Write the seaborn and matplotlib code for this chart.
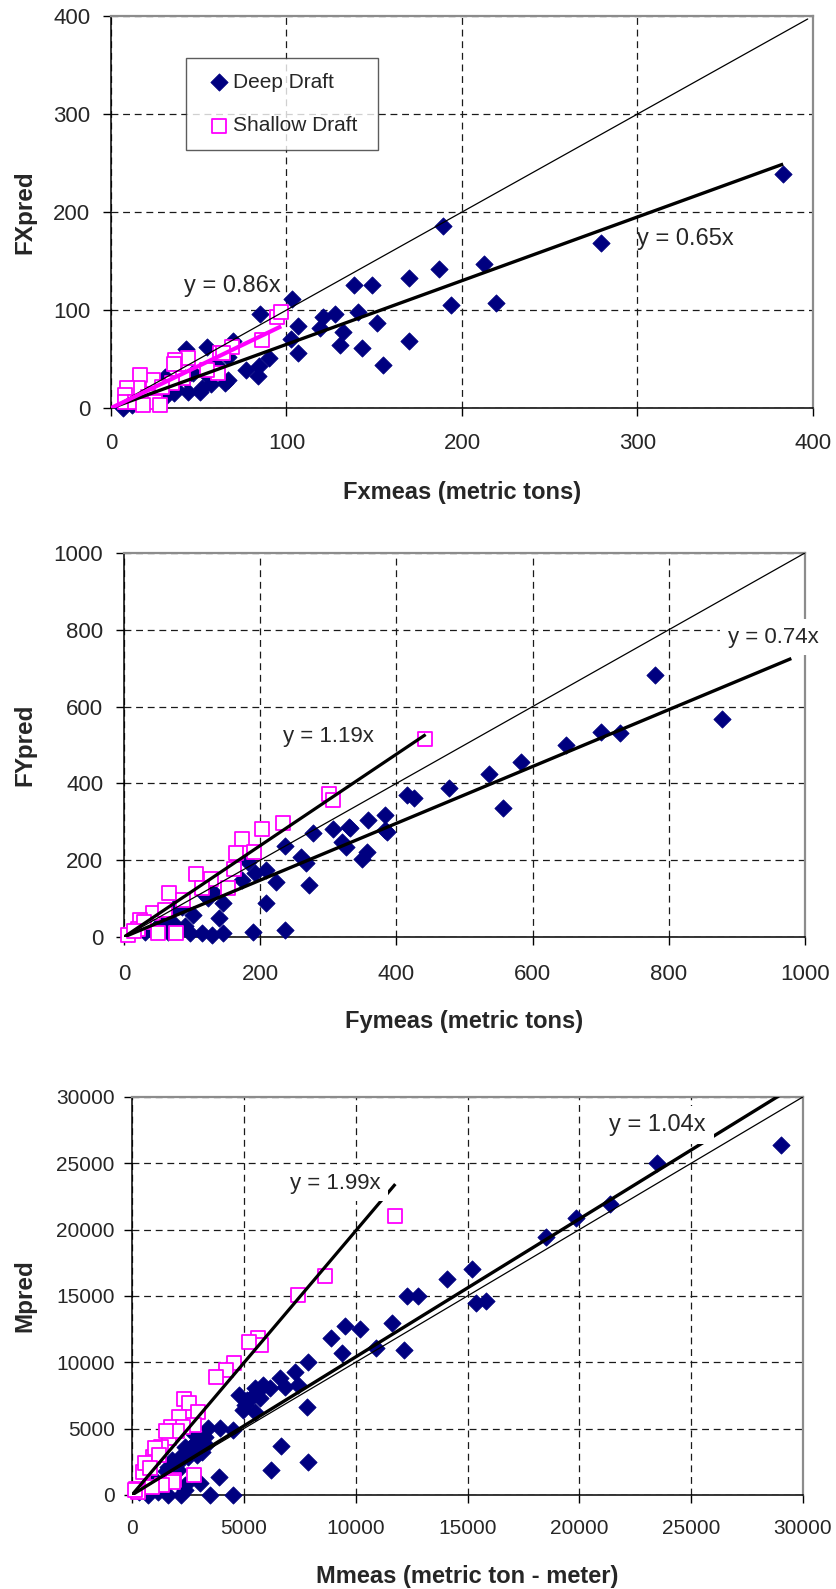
import matplotlib
matplotlib.use("Agg")
import matplotlib.pyplot as plt
import seaborn as sns
import pandas as pd

# ---------------- Longitudinal force Fx (metric tons) ----------------
fx_deep_meas = [189, 186.7, 212.7, 169.8, 193.5, 219.4, 138.3, 148.5, 103, 84.7, 120.6, 127.8, 141,
                106.7, 119, 132.4, 151.4, 102.6, 130.5, 106.7, 142.8, 169.8, 155.2, 90.2, 84.5, 84,
                76.9, 54.9, 42.7, 69.3, 66.9, 50.7, 44, 35.9, 7, 279.4, 382.7, 66.9, 53.6, 65, 51.7,
                46.9, 42.2, 36.5, 30.8, 25, 15.6, 30.8, 60, 57, 20, 12]
fx_deep_pred = [186, 141.5, 146.6, 133, 105.4, 107, 126, 126, 111, 95.6, 92.5, 96, 97.6,
                83.7, 81.3, 77.9, 87, 70, 64.3, 56.5, 61, 68, 43.9, 50.7, 42.9, 32.7,
                38.8, 62.6, 59.9, 68.7, 28.6, 16.7, 16.7, 15, 0, 168.7, 239, 52.4, 35.4, 25.2, 20,
                35.4, 30.3, 20, 11.6, 8.2, 4.8, 32, 45, 25, 10, 3]
fx_shallow_meas = [94.8, 97, 85.9, 68.8, 62, 44, 36.5, 61, 54.5, 41.2, 24.1, 16.5, 15.6, 8.9, 8,
                   21.3, 25, 8, 13.7, 34.6, 28.9, 64, 36, 18, 28]
fx_shallow_pred = [93.2, 98, 69.4, 62.6, 55.8, 50.7, 49, 35.4, 38.8, 30.3, 28.6, 33.7, 20, 20, 13.3,
                   11.6, 6.4, 6.4, 6.4, 25.2, 21.8, 56, 45, 3, 3]
fx_slopes = [0.65, 0.86]          # deep, shallow trendlines (through origin)
fx_fit_end = [383, 97]
fx_ticks = [0, 100, 200, 300, 400]

# ---------------- Lateral force Fy (metric tons) ----------------
fy_deep_meas = [780, 878, 728, 701, 649, 583, 536, 478, 556, 415, 426, 383, 383, 359, 330, 307, 278,
                320, 326, 357, 349, 237, 260, 268, 271, 223, 208, 192, 208, 236, 189, 182.5, 173, 146,
                140, 145, 130, 114, 97, 102, 124, 131, 116.5, 75, 85, 65, 55, 332, 386, 31, 11, 70, 45, 90]
fy_deep_pred = [681.5, 567, 532, 534, 499, 455, 424, 389, 337, 371, 363, 319, 279, 306, 286, 280, 270,
                248, 235, 222, 202, 237, 209, 193, 135, 144, 174, 166, 88, 18, 14, 196, 148, 88,
                49, 10, 5, 10, 10, 57, 101, 118, 114, 79, 79, 14, 36, 283, 274, 14, 10, 40, 20, 30]
fy_shallow_meas = [442, 301.5, 307.5, 233, 202, 174, 164.5, 191, 161, 106, 128, 153, 114, 66.5, 86,
                   43, 23.5, 50, 76, 6, 21, 60, 30, 15]
fy_shallow_pred = [515, 372, 358, 298, 280, 254, 220, 222, 176, 163, 150, 127, 127, 115, 96,
                   63, 44, 10, 10, 5, 22, 70, 40, 15]
fy_slopes = [0.74, 1.19]
fy_fit_end = [980, 443]
fy_ticks = [0, 200, 400, 600, 800, 1000]

# ---------------- Yaw moment M (metric ton - meter) ----------------
m_deep_meas = [29016, 23458, 21371, 19837, 18510, 15215, 14097, 15365, 15827, 12280, 12772, 11624,
               10909, 12161, 8911, 9509, 10194, 9389, 7869, 7288, 6617, 7436, 7809, 6170, 5872, 5499,
               5723, 5127, 4798, 4977, 5499, 6662, 7884, 6215, 4530, 3934, 3413, 3890, 3040, 2370,
               6840, 5574, 5350, 5052, 3264, 2817, 2743, 2370, 2146, 1774, 3115, 2519, 2072, 1624,
               2370, 1177, 1475, 880, 1610, 2213, 3480, 4506, 700, 2600, 3000, 2900, 3300, 2000,
               1500, 1000, 500, 300]
m_deep_pred = [26360, 25050, 21910, 20853, 19472, 17010, 16256, 14497, 14623, 15000, 15000, 12990,
               11106, 10930, 11860, 12740, 12490, 10680, 10050, 9296, 8793, 8291, 6658, 8040, 8291, 8040,
               7290, 7160, 7537, 6407, 6281, 3718, 2462, 1884, 4900, 5025, 5025, 1334, 880, 754,
               8165, 7790, 7410, 6783, 4400, 3900, 4650, 3640, 2890, 2640, 3265, 2890, 1884, 2135,
               377, 250, 1130, 880, 0, 0, 0, 0, 0, 3500, 4200, 3000, 3800, 2300,
               1800, 1200, 500, 200]
m_shallow_meas = [11773, 8629, 7436, 5648, 5767, 5246, 4574, 4203, 3756, 2340, 2563, 2937, 2116, 1744,
                  2786, 1669, 1297, 953, 507, 2786, 1893, 180, 1028, 1848, 1326, 880, 283, 134, 581,
                  2295, 1200, 800, 2000, 1500]
m_shallow_pred = [21055, 16507, 15075, 11810, 11306, 11558, 9927, 9420, 8917, 7210, 6910, 6281, 5900,
                  5150, 5276, 4273, 3640, 2890, 1758, 1508, 1130, 430, 3520, 1000, 750, 630, 250, 380,
                  2390, 5150, 3000, 2000, 4800, 4800]
m_slopes = [1.04, 1.99]
m_fit_end = [29016, 11773]
m_ticks = [0, 5000, 10000, 15000, 20000, 25000, 30000]

series_names = ["Deep Draft", "Shallow Draft"]
x_titles = ["Fxmeas (metric tons)", "Fymeas (metric tons)", "Mmeas (metric ton - meter)"]
y_titles = ["FXpred", "FYpred", "Mpred"]

sns.set_style("white")
plt.rcParams["font.family"] = ["Liberation Sans", "DejaVu Sans"]

NAVY = "#000080"
MAGENTA = "#FF00FF"

fig = plt.figure(figsize=(8.37, 15.89), dpi=100)

panels = [
    dict(rect=[0.1326, 0.7432, 0.8387, 0.2467], deep=(fx_deep_meas, fx_deep_pred),
         shallow=(fx_shallow_meas, fx_shallow_pred), slopes=fx_slopes, ends=fx_fit_end,
         ticks=fx_ticks, xt=x_titles[0], yt=y_titles[0],
         xlab_y=-0.215, ylab_x=-0.1225, xpad=12, ypad=9, tick_fs=16,
         xlab_fs=17, ylab_fs=17.5, diag_end=397,
         shallow_color=MAGENTA, shallow_lw=3.0,
         ann=[(327.5, 172, False, 17), (69, 125, False, 17)], legend=True),
    dict(rect=[0.1481, 0.4103, 0.8136, 0.2417], deep=(fy_deep_meas, fy_deep_pred),
         shallow=(fy_shallow_meas, fy_shallow_pred), slopes=fy_slopes, ends=fy_fit_end,
         ticks=fy_ticks, xt=x_titles[1], yt=y_titles[1],
         xlab_y=-0.22, ylab_x=-0.1454, xpad=13.5, ypad=9, tick_fs=16,
         xlab_fs=17, ylab_fs=17.5, diag_end=1000,
         shallow_color="black", shallow_lw=2.3,
         ann=[(953, 781, True, 16), (300, 521, False, 16)], legend=False),
    dict(rect=[0.1577, 0.0592, 0.8017, 0.2505], deep=(m_deep_meas, m_deep_pred),
         shallow=(m_shallow_meas, m_shallow_pred), slopes=m_slopes, ends=m_fit_end,
         ticks=m_ticks, xt=x_titles[2], yt=y_titles[2],
         xlab_y=-0.205, ylab_x=-0.1595, xpad=11, ypad=6.5, tick_fs=15,
         xlab_fs=17, ylab_fs=17.5, diag_end=30000,
         shallow_color="black", shallow_lw=2.3,
         ann=[(23485, 27890, True, 17), (9076, 23494, True, 16)], legend=False),
]

for p in panels:
    ax = fig.add_axes(p["rect"])
    lim = p["ticks"][-1]

    deep_df = pd.DataFrame({"meas": p["deep"][0], "pred": p["deep"][1]})
    shallow_df = pd.DataFrame({"meas": p["shallow"][0], "pred": p["shallow"][1]})

    sns.scatterplot(data=deep_df, x="meas", y="pred", ax=ax, marker="D", s=78,
                    color=NAVY, edgecolor=NAVY, linewidth=0.5, zorder=3,
                    label=series_names[0], clip_on=False)
    sns.scatterplot(data=shallow_df, x="meas", y="pred", ax=ax, marker="s", s=100,
                    facecolor="white", edgecolor=MAGENTA, linewidth=1.3, zorder=4,
                    label=series_names[1], clip_on=False)

    # 1:1 reference line
    ax.plot([0, p["diag_end"]], [0, p["diag_end"]], color="black", lw=0.9, zorder=5)

    # Proportional trendlines
    deep_slope, shallow_slope = p["slopes"]
    deep_end, shallow_end = p["ends"]
    ax.plot([0, deep_end], [0, deep_slope * deep_end], color="black", lw=2.4, zorder=6,
            solid_capstyle="butt")
    ax.plot([0, shallow_end], [0, shallow_slope * shallow_end], color=p["shallow_color"],
            lw=p["shallow_lw"], zorder=6, solid_capstyle="butt")

    for (tx, ty, boxed, fs), slope in zip(p["ann"], p["slopes"]):
        kw = {}
        if boxed:
            kw["bbox"] = dict(boxstyle="square,pad=0.35", facecolor="white", edgecolor="none")
        ax.text(tx, ty, f"y = {slope:.2f}x", fontsize=fs, ha="center", va="center",
                zorder=8, **kw)

    ax.set_xlim(0, lim)
    ax.set_ylim(0, lim)
    ax.set_xticks(p["ticks"])
    ax.set_yticks(p["ticks"])
    ax.set_xticklabels([str(t) for t in p["ticks"]])
    ax.set_yticklabels([str(t) for t in p["ticks"]])

    ax.grid(True, color="#1a1a1a", linestyle=(0, (5.5, 3.8)), linewidth=0.9)
    ax.set_axisbelow(True)

    for side in ["left", "bottom"]:
        ax.spines[side].set_color("black")
        ax.spines[side].set_linewidth(1.1)
    for side in ["top", "right"]:
        ax.spines[side].set_color("#8c8c8c")
        ax.spines[side].set_linewidth(1.6)

    ax.tick_params(axis="both", which="major", direction="out", length=6, width=1,
                   color="black", labelsize=p["tick_fs"], left=True, bottom=True,
                   top=False, right=False)
    ax.tick_params(axis="x", pad=p["xpad"])
    ax.tick_params(axis="y", pad=p["ypad"])

    ax.set_xlabel(p["xt"], fontsize=p["xlab_fs"], fontweight="bold", va="center")
    ax.set_ylabel(p["yt"], fontsize=p["ylab_fs"], fontweight="bold", va="center")
    ax.xaxis.set_label_coords(0.5, p["xlab_y"])
    ax.yaxis.set_label_coords(p["ylab_x"], 0.5)

    if p["legend"]:
        leg = ax.legend(loc="upper left", bbox_to_anchor=(0.1068, 0.793, 0.2735, 0.1),
                        mode="expand", fontsize=15, frameon=True, fancybox=False,
                        borderpad=0.7, labelspacing=1.18, handlelength=1.8,
                        handletextpad=-0.25, borderaxespad=0.0, scatterpoints=1)
        leg.get_frame().set_edgecolor("#333333")
        leg.get_frame().set_linewidth(1.0)
        leg.set_zorder(9)
    else:
        ax.get_legend().remove()

fig.savefig("out.png", dpi=100, facecolor="white")
